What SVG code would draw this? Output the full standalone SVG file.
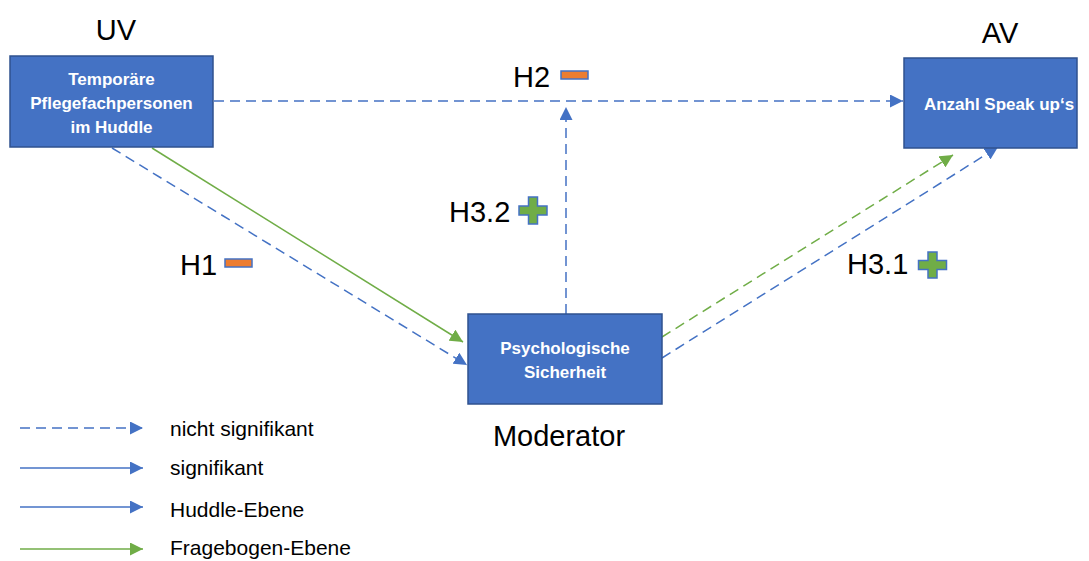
<svg xmlns="http://www.w3.org/2000/svg" width="1089" height="561" viewBox="0 0 1089 561">
  <style>
    .box { fill: #4472C4; stroke: #2F528F; stroke-width: 1.5; }
    .btxt { font-family: "Liberation Sans", Arial, sans-serif; font-weight: bold; font-size: 17px; fill: #FFFFFF; }
    .big { font-family: "Liberation Sans", Arial, sans-serif; font-size: 29px; fill: #000000; }
    .leg { font-family: "Liberation Sans", Arial, sans-serif; font-size: 21px; fill: #000000; }
    .blue { stroke: #4472C4; stroke-width: 1.5; fill: none; }
    .green { stroke: #70AD47; stroke-width: 1.5; fill: none; }
    .dash { stroke-dasharray: 10 6; }
    .minus { fill: #ED7D31; stroke: #4472C4; stroke-width: 1.5; }
    .plus { fill: #70AD47; stroke: #4472C4; stroke-width: 1.5; }
  </style>
  <defs>
    <marker id="ab" markerUnits="userSpaceOnUse" markerWidth="14" markerHeight="13" refX="13" refY="6.5" orient="auto">
      <path d="M0,0 L13,6.5 L0,13 z" fill="#4472C4"/>
    </marker>
    <marker id="ag" markerUnits="userSpaceOnUse" markerWidth="14" markerHeight="13" refX="13" refY="6.5" orient="auto">
      <path d="M0,0 L13,6.5 L0,13 z" fill="#70AD47"/>
    </marker>
  </defs>
  <rect width="1089" height="561" fill="#FFFFFF"/>

  <g id="connectors">
    <line class="blue dash" x1="214" y1="101" x2="903" y2="101" marker-end="url(#ab)"/>
    <line class="blue dash" x1="566" y1="314" x2="566" y2="107" marker-end="url(#ab)"/>
    <line class="blue dash" x1="112" y1="148" x2="467" y2="365" marker-end="url(#ab)"/>
    <line class="green" x1="152" y1="148" x2="463" y2="342" marker-end="url(#ag)"/>
    <line class="green dash" x1="662" y1="337" x2="953" y2="155" marker-end="url(#ag)"/>
    <line class="blue dash" x1="662" y1="358" x2="998" y2="147" marker-end="url(#ab)"/>
  </g>

  <g id="node-uv">
    <rect class="box" x="10" y="56" width="203" height="91"/>
    <text class="btxt" x="111.5" y="85" text-anchor="middle">Temporäre</text>
    <text class="btxt" x="111.5" y="109" text-anchor="middle">Pflegefachpersonen</text>
    <text class="btxt" x="111.5" y="133" text-anchor="middle">im Huddle</text>
  </g>

  <g id="node-av">
    <rect class="box" x="904" y="58" width="173" height="90"/>
    <text class="btxt" x="999" y="110" text-anchor="middle">Anzahl Speak up‘s</text>
  </g>

  <g id="node-moderator">
    <rect class="box" x="468" y="314" width="194" height="90"/>
    <text class="btxt" x="565" y="354" text-anchor="middle">Psychologische</text>
    <text class="btxt" x="565" y="378" text-anchor="middle">Sicherheit</text>
  </g>

  <g id="titles">
    <text class="big" x="116" y="40" text-anchor="middle" font-size="28">UV</text>
    <text class="big" x="1000" y="43" text-anchor="middle" font-size="28">AV</text>
    <text class="big" x="559" y="446" text-anchor="middle" font-size="32">Moderator</text>
  </g>

  <g id="hypotheses">
    <text class="big" x="180" y="275">H1</text>
    <rect class="minus" x="225" y="259" width="27" height="8"/>
    <text class="big" x="513" y="87">H2</text>
    <rect class="minus" x="561" y="71" width="27" height="8"/>
    <text class="big" x="449" y="222">H3.2</text>
    <path class="plus" d="M528.5,197 h9 v9 h9.5 v9 h-9.5 v9 h-9 v-9 h-9.5 v-9 h9.5 z"/>
    <text class="big" x="847" y="274">H3.1</text>
    <path class="plus" d="M928,252 h9 v8.5 h9.5 v9 h-9.5 v8.5 h-9 v-8.5 h-9.5 v-9 h9.5 z"/>
  </g>

  <g id="legend">
    <line class="blue dash" x1="20" y1="428" x2="143" y2="428" marker-end="url(#ab)"/>
    <text class="leg" x="170" y="436">nicht signifikant</text>
    <line class="blue" x1="20" y1="468" x2="143" y2="468" marker-end="url(#ab)"/>
    <text class="leg" x="170" y="475">signifikant</text>
    <line class="blue" x1="20" y1="507" x2="143" y2="507" marker-end="url(#ab)"/>
    <text class="leg" x="170" y="517">Huddle-Ebene</text>
    <line class="green" x1="20" y1="549" x2="143" y2="549" marker-end="url(#ag)"/>
    <text class="leg" x="170" y="555">Fragebogen-Ebene</text>
  </g>
</svg>
